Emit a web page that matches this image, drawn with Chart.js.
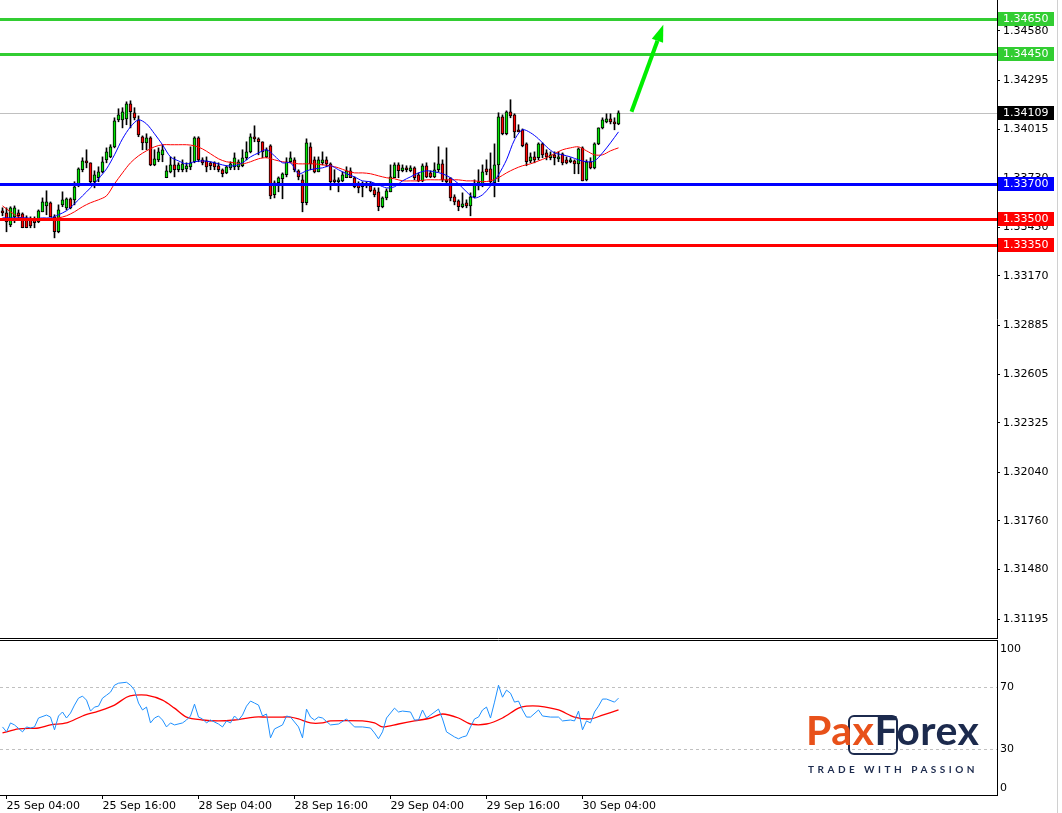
<!DOCTYPE html>
<html>
<head>
<meta charset="utf-8">
<title>GBPUSD M30</title>
<script src="https://cdn.jsdelivr.net/npm/chart.js@4.4.0/dist/chart.umd.min.js"></script>
<style>
  html, body { margin: 0; padding: 0; background: #fff; overflow: hidden; }
  #wrap { position: relative; width: 1062px; height: 813px; }
  #mainBox { position: absolute; left: 0; top: 0; width: 1062px; height: 640px; }
  #rsiBox { position: absolute; left: 0; top: 640px; width: 1062px; height: 173px; }
  #logoBox { position: absolute; left: 848px; top: 715px; width: 46px; height: 36px;
    border: 2.5px solid #1c2a4d; border-radius: 6px; }
  #logo { position: absolute; left: 806px; top: 706px; font-family: Lato, sans-serif; font-weight: 700; }
  #logo .brand { font-size: 41px; line-height: 48px; letter-spacing: 0.5px; }
  #logo .pax { color: #e8511a; }
  #logo .fx { color: #1c2a4d; }
  #logo .tag { color: #1c2a4d; font-size: 10px; letter-spacing: 3.5px; margin-top: 9px; margin-left: 2px; }
</style>
</head>
<body>
<div id="wrap">
  <div id="mainBox"><canvas id="mainChart"></canvas></div>
  <div id="rsiBox"><canvas id="rsiChart"></canvas></div>
  <div id="logoBox"></div>
  <div id="logo">
    <div class="brand"><span class="pax">Pax</span><span class="fx">Forex</span></div>
    <div class="tag">TRADE WITH PASSION</div>
  </div>
</div>
<script>
// M30 candles, index 0 = 25 Sep 03:30 (weekend gap after index 40)
const opens = [
  1.33539, 1.33533, 1.33464, 1.33510, 1.33533, 1.33527, 1.33504, 1.33499, 1.33493, 1.33481,
  1.33539, 1.33573, 1.33591, 1.33510, 1.33424, 1.33579, 1.33562, 1.33614, 1.33608, 1.33688,
  1.33781, 1.33832, 1.33821, 1.33712, 1.33735, 1.33769, 1.33838, 1.33855, 1.33913, 1.34068,
  1.34068, 1.34074, 1.34161, 1.34109, 1.34068, 1.33971, 1.33936, 1.33965, 1.33809, 1.33838,
  1.33867, 1.33735, 1.33769, 1.33809, 1.33781, 1.33781, 1.33786, 1.33798, 1.33827, 1.33965,
  1.33838, 1.33832, 1.33821, 1.33821, 1.33804, 1.33781, 1.33763, 1.33792, 1.33798, 1.33798,
  1.33804, 1.33850, 1.33884, 1.33971, 1.33959, 1.33942, 1.33855, 1.33919, 1.33637, 1.33706,
  1.33729, 1.33752, 1.33827, 1.33838, 1.33775, 1.33723, 1.33591, 1.33913, 1.33838, 1.33769,
  1.33821, 1.33838, 1.33815, 1.33723, 1.33712, 1.33717, 1.33735, 1.33775, 1.33735, 1.33694,
  1.33694, 1.33688, 1.33688, 1.33665, 1.33654, 1.33568, 1.33619, 1.33654, 1.33735, 1.33809,
  1.33775, 1.33792, 1.33775, 1.33792, 1.33752, 1.33717, 1.33804, 1.33763, 1.33740, 1.33781,
  1.33815, 1.33723, 1.33735, 1.33625, 1.33602, 1.33568, 1.33591, 1.33573, 1.33625, 1.33688,
  1.33694, 1.33786, 1.33786, 1.33706, 1.33809, 1.34086, 1.33988, 1.34115, 1.34097, 1.34011,
  1.34011, 1.33930, 1.33832, 1.33855, 1.33850, 1.33930, 1.33878, 1.33850, 1.33867, 1.33844,
  1.33873, 1.33838, 1.33827, 1.33832, 1.33815, 1.33907, 1.33723, 1.33827, 1.33792, 1.33930,
  1.34022, 1.34057, 1.34074, 1.34057, 1.34045
];
const highs = [
  1.33562, 1.33562, 1.33568, 1.33573, 1.33550, 1.33533, 1.33516, 1.33510, 1.33510, 1.33550,
  1.33619, 1.33660, 1.33596, 1.33522, 1.33579, 1.33654, 1.33619, 1.33619, 1.33712, 1.33792,
  1.33850, 1.33896, 1.33821, 1.33775, 1.33798, 1.33855, 1.33907, 1.33925, 1.34080, 1.34132,
  1.34138, 1.34172, 1.34178, 1.34138, 1.34091, 1.33976, 1.33988, 1.33971, 1.33896, 1.33907,
  1.33925, 1.33804, 1.33855, 1.33855, 1.33821, 1.33838, 1.33821, 1.33913, 1.33971, 1.33971,
  1.33850, 1.33855, 1.33827, 1.33827, 1.33821, 1.33786, 1.33804, 1.33827, 1.33878, 1.33838,
  1.33896, 1.33942, 1.33988, 1.34034, 1.33965, 1.33942, 1.33907, 1.33925, 1.33717, 1.33740,
  1.33763, 1.33850, 1.33884, 1.33850, 1.33781, 1.33752, 1.33959, 1.33936, 1.33855, 1.33855,
  1.33884, 1.33855, 1.33821, 1.33781, 1.33735, 1.33769, 1.33798, 1.33792, 1.33740, 1.33712,
  1.33712, 1.33712, 1.33712, 1.33677, 1.33677, 1.33625, 1.33671, 1.33809, 1.33821, 1.33821,
  1.33809, 1.33804, 1.33804, 1.33798, 1.33763, 1.33815, 1.33821, 1.33775, 1.33821, 1.33913,
  1.33838, 1.33907, 1.33735, 1.33637, 1.33608, 1.33648, 1.33608, 1.33648, 1.33723, 1.33781,
  1.33809, 1.33838, 1.33878, 1.33930, 1.34109, 1.34097, 1.34120, 1.34184, 1.34103, 1.34040,
  1.34016, 1.33936, 1.33878, 1.33884, 1.33936, 1.33936, 1.33896, 1.33884, 1.33884, 1.33884,
  1.33878, 1.33855, 1.33850, 1.33838, 1.33907, 1.33913, 1.33838, 1.33850, 1.33936, 1.34022,
  1.34080, 1.34103, 1.34103, 1.34080, 1.34120
];
const lows = [
  1.33516, 1.33424, 1.33453, 1.33476, 1.33499, 1.33447, 1.33447, 1.33447, 1.33447, 1.33476,
  1.33539, 1.33522, 1.33510, 1.33389, 1.33418, 1.33568, 1.33550, 1.33556, 1.33579, 1.33683,
  1.33769, 1.33792, 1.33706, 1.33677, 1.33712, 1.33763, 1.33821, 1.33850, 1.33907, 1.34057,
  1.34022, 1.34040, 1.34022, 1.34068, 1.33971, 1.33896, 1.33896, 1.33804, 1.33804, 1.33827,
  1.33827, 1.33735, 1.33763, 1.33740, 1.33769, 1.33769, 1.33769, 1.33781, 1.33821, 1.33827,
  1.33809, 1.33769, 1.33781, 1.33781, 1.33769, 1.33740, 1.33758, 1.33781, 1.33781, 1.33781,
  1.33798, 1.33838, 1.33878, 1.33942, 1.33867, 1.33850, 1.33850, 1.33614, 1.33619, 1.33654,
  1.33614, 1.33740, 1.33821, 1.33769, 1.33723, 1.33539, 1.33579, 1.33781, 1.33763, 1.33769,
  1.33809, 1.33798, 1.33665, 1.33706, 1.33654, 1.33712, 1.33735, 1.33735, 1.33677, 1.33648,
  1.33625, 1.33677, 1.33654, 1.33625, 1.33545, 1.33562, 1.33608, 1.33654, 1.33735, 1.33735,
  1.33769, 1.33769, 1.33769, 1.33723, 1.33712, 1.33712, 1.33735, 1.33735, 1.33735, 1.33769,
  1.33712, 1.33706, 1.33602, 1.33579, 1.33545, 1.33562, 1.33562, 1.33516, 1.33619, 1.33665,
  1.33683, 1.33752, 1.33700, 1.33625, 1.33712, 1.33982, 1.33982, 1.34080, 1.33965, 1.33999,
  1.33913, 1.33804, 1.33821, 1.33821, 1.33838, 1.33850, 1.33838, 1.33838, 1.33809, 1.33827,
  1.33809, 1.33815, 1.33821, 1.33758, 1.33758, 1.33717, 1.33717, 1.33786, 1.33786, 1.33925,
  1.34016, 1.34051, 1.34045, 1.34011, 1.34040
];
const closes = [
  1.33533, 1.33481, 1.33562, 1.33562, 1.33516, 1.33447, 1.33447, 1.33458, 1.33476, 1.33545,
  1.33596, 1.33596, 1.33510, 1.33424, 1.33550, 1.33608, 1.33614, 1.33562, 1.33683, 1.33786,
  1.33832, 1.33821, 1.33712, 1.33752, 1.33769, 1.33827, 1.33884, 1.33913, 1.34063, 1.34097,
  1.34115, 1.34161, 1.34115, 1.34080, 1.33982, 1.33936, 1.33965, 1.33809, 1.33844, 1.33884,
  1.33896, 1.33775, 1.33809, 1.33781, 1.33809, 1.33815, 1.33804, 1.33821, 1.33965, 1.33838,
  1.33821, 1.33798, 1.33804, 1.33798, 1.33781, 1.33758, 1.33798, 1.33815, 1.33850, 1.33827,
  1.33850, 1.33884, 1.33971, 1.33959, 1.33942, 1.33884, 1.33896, 1.33631, 1.33706, 1.33735,
  1.33758, 1.33827, 1.33850, 1.33781, 1.33740, 1.33591, 1.33936, 1.33815, 1.33769, 1.33838,
  1.33838, 1.33815, 1.33712, 1.33712, 1.33723, 1.33752, 1.33775, 1.33735, 1.33683, 1.33677,
  1.33683, 1.33700, 1.33660, 1.33637, 1.33568, 1.33619, 1.33660, 1.33740, 1.33809, 1.33775,
  1.33792, 1.33781, 1.33792, 1.33735, 1.33717, 1.33804, 1.33740, 1.33740, 1.33781, 1.33815,
  1.33723, 1.33712, 1.33619, 1.33596, 1.33568, 1.33585, 1.33573, 1.33625, 1.33694, 1.33712,
  1.33769, 1.33769, 1.33712, 1.33809, 1.34086, 1.33988, 1.34115, 1.34091, 1.33999, 1.33999,
  1.33919, 1.33827, 1.33855, 1.33838, 1.33930, 1.33867, 1.33855, 1.33867, 1.33850, 1.33855,
  1.33821, 1.33821, 1.33838, 1.33815, 1.33901, 1.33717, 1.33827, 1.33792, 1.33930, 1.34022,
  1.34068, 1.34074, 1.34057, 1.34045, 1.34109
];

// moving averages, read every second candle
const maIdx = [
  0, 2, 4, 6, 8, 10, 12, 14, 16, 18, 20, 22, 24, 26, 28, 30, 32, 34, 36, 38,
  40, 42, 44, 46, 48, 50, 52, 54, 56, 58, 60, 62, 64, 66, 68, 70, 72, 74, 76, 78,
  80, 82, 84, 86, 88, 90, 92, 94, 96, 98, 100, 102, 104, 106, 108, 110, 112, 114, 116, 118,
  120, 122, 124, 126, 128, 130, 132, 134, 136, 138, 140, 142, 144, 146, 148, 150, 152, 154
];
const maFast = [
  1.33504, 1.33504, 1.33504, 1.33504, 1.33499, 1.33504, 1.33504, 1.33522, 1.33545, 1.33585,
  1.33631, 1.33677, 1.33729, 1.33786, 1.33867, 1.33959, 1.34028, 1.34068, 1.34045, 1.33988,
  1.33925, 1.33855, 1.33832, 1.33815, 1.33827, 1.33832, 1.33827, 1.33815, 1.33804, 1.33804,
  1.33821, 1.33855, 1.33878, 1.33896, 1.33861, 1.33821, 1.33821, 1.33758, 1.33775, 1.33786,
  1.33792, 1.33804, 1.33781, 1.33758, 1.33740, 1.33717, 1.33712, 1.33694, 1.33677, 1.33683,
  1.33717, 1.33740, 1.33763, 1.33775, 1.33769, 1.33758, 1.33735, 1.33700, 1.33654, 1.33619,
  1.33637, 1.33688, 1.33752, 1.33838, 1.33953, 1.34011, 1.33994, 1.33959, 1.33913, 1.33878,
  1.33867, 1.33855, 1.33838, 1.33827, 1.33832, 1.33878, 1.33936, 1.33999
];
const maSlow = [
  1.33573, 1.33539, 1.33510, 1.33499, 1.33499, 1.33499, 1.33499, 1.33504, 1.33516, 1.33539,
  1.33568, 1.33591, 1.33608, 1.33631, 1.33700, 1.33763, 1.33821, 1.33861, 1.33890, 1.33913,
  1.33925, 1.33925, 1.33925, 1.33925, 1.33919, 1.33901, 1.33873, 1.33844, 1.33827, 1.33821,
  1.33815, 1.33827, 1.33844, 1.33850, 1.33838, 1.33827, 1.33821, 1.33815, 1.33815, 1.33815,
  1.33809, 1.33804, 1.33792, 1.33775, 1.33763, 1.33763, 1.33758, 1.33746, 1.33735, 1.33729,
  1.33717, 1.33717, 1.33717, 1.33723, 1.33723, 1.33723, 1.33723, 1.33723, 1.33717, 1.33717,
  1.33712, 1.33717, 1.33735, 1.33763, 1.33786, 1.33804, 1.33815, 1.33832, 1.33850, 1.33873,
  1.33896, 1.33907, 1.33913, 1.33890, 1.33867, 1.33867, 1.33890, 1.33907
];

// RSI and its signal line
const rsiIdx = [
  0, 1, 2, 3, 5, 6, 7, 8, 9, 11,
  12, 13, 14, 15, 16, 17, 18, 19, 20, 21,
  22, 23, 24, 25, 26, 27, 28, 29, 31, 32,
  33, 34, 35, 36, 37, 38, 39, 40, 41, 42,
  43, 45, 46, 47, 48, 49, 50, 51, 52, 54,
  55, 56, 57, 58, 59, 60, 61, 62, 63, 64,
  65, 66, 67, 68, 70, 71, 72, 74, 75, 76,
  77, 78, 79, 80, 82, 84, 86, 88, 90, 92,
  93, 94, 95, 96, 98, 99, 100, 102, 103, 104,
  105, 106, 107, 109, 110, 111, 113, 114, 115, 116,
  117, 118, 119, 120, 121, 122, 123, 124, 125, 126,
  127, 128, 129, 130, 131, 132, 134, 135, 137, 139,
  140, 142, 143, 144, 145, 146, 147, 148, 149, 150,
  151, 153, 154
];
const rsiVal = [
  44.2, 41.0, 46.8, 45.5, 41.0, 44.2, 43.5, 44.2, 50.0, 51.9,
  50.6, 42.3, 51.3, 53.9, 50.0, 53.2, 58.4, 62.9, 64.2, 61.6,
  54.5, 57.1, 57.7, 62.9, 64.8, 66.8, 71.3, 72.6, 73.2, 71.3,
  68.1, 59.7, 55.2, 57.1, 46.8, 50.0, 51.3, 48.7, 44.2, 46.8,
  45.5, 46.8, 48.7, 51.3, 59.0, 50.6, 49.4, 46.8, 48.7, 46.1,
  44.2, 48.1, 46.8, 51.3, 48.7, 51.9, 57.7, 61.0, 59.7, 58.4,
  51.3, 52.6, 37.1, 42.9, 45.5, 51.3, 50.6, 44.2, 37.1, 55.8,
  50.6, 48.7, 50.6, 50.0, 45.5, 46.1, 49.4, 44.2, 44.2, 43.5,
  40.3, 36.5, 41.0, 50.0, 56.4, 53.9, 54.5, 53.9, 48.7, 48.7,
  55.2, 50.0, 51.9, 55.8, 49.4, 41.0, 37.7, 36.5, 37.7, 38.4,
  44.2, 49.4, 50.6, 55.2, 57.1, 50.0, 60.3, 71.3, 63.5, 68.1,
  66.1, 60.3, 61.0, 55.2, 50.6, 50.6, 55.2, 51.3, 50.6, 50.6,
  48.1, 48.7, 48.1, 54.5, 42.3, 48.1, 46.8, 53.9, 57.7, 62.3,
  62.3, 60.3, 62.9
];
const rsiMaIdx = [0, 4, 9, 12, 16, 20, 24, 28, 31, 33, 36, 40, 43, 46, 50, 54, 58, 63, 66, 70,
  72, 74, 77, 80, 82, 90, 93, 95, 99, 103, 107, 110, 114, 117, 121, 125, 129, 131, 134, 139,
  143, 147, 150, 154];
const rsiMaVal = [40.3, 42.9, 43.5, 45.5, 46.8, 51.3, 54.5, 58.4, 63.5, 64.8, 64.8, 61.6, 56.4, 50.6, 48.7, 48.1, 48.7, 50.6, 50.6, 50.6,
  50.6, 49.4, 46.8, 46.8, 48.1, 48.1, 46.8, 44.2, 46.1, 48.1, 50.0, 52.6, 50.0, 46.1, 46.1, 50.0, 56.4, 57.7, 57.7, 55.2,
  50.6, 49.4, 51.9, 55.2];

// axes
const priceTicks = [1.34580, 1.34295, 1.34015, 1.33730, 1.33450, 1.33170, 1.32885, 1.32605,
  1.32325, 1.32040, 1.31760, 1.31480, 1.31195];
const timeTickIdx = [1, 25, 49, 73, 97, 121, 145];
const timeTickLabels = ['25 Sep 04:00', '25 Sep 16:00', '28 Sep 04:00', '28 Sep 16:00',
  '29 Sep 04:00', '29 Sep 16:00', '30 Sep 04:00'];
const rsiLevels = [70, 30];

// horizontal levels and annotation
const levelValues = [1.3465, 1.3445, 1.3370, 1.3350, 1.3335];
const levelColors = ['#32cd32', '#32cd32', '#0000ff', '#ff0000', '#ff0000'];
const lastPrice = 1.34109;
const arrowFrom = [157.25, 1.34115];
const arrowTo = [165.2, 1.34615];

const X_MIN = -0.625, X_MAX = 248.625;

Chart.defaults.font.family = 'DejaVu Sans';
Chart.defaults.font.size = 11;
Chart.defaults.color = '#000';

function pts(idx, vals) {
  return idx.map((v, i) => ({ x: v, y: vals[i] }));
}

const wickData = highs.map((h, i) => ({ x: i, y: [lows[i], h] }));
const bodyData = opens.map((o, i) => ({ x: i, y: [Math.min(o, closes[i]), Math.max(o, closes[i])] }));
const bodyColors = opens.map((o, i) => closes[i] >= o ? '#00e600' : '#ff0000');

function hline(ctx, a, py, color, w) {
  ctx.strokeStyle = color;
  ctx.lineWidth = w;
  ctx.beginPath();
  ctx.moveTo(a.left, py);
  ctx.lineTo(a.right, py);
  ctx.stroke();
}

function priceBox(ctx, a, py, color, text) {
  ctx.fillStyle = color;
  ctx.fillRect(a.right + 1, Math.round(py) - 7, 56, 14);
  ctx.fillStyle = '#fff';
  ctx.font = '11px "DejaVu Sans"';
  ctx.textAlign = 'left';
  ctx.textBaseline = 'middle';
  ctx.fillText(text, a.right + 6, Math.round(py) + 0.5);
}

// drop the half-label padding Chart.js adds at the ends of a vertical axis
function fitRight(s) {
  s.width = 65;
  s.paddingTop = 0;
  s.paddingBottom = 0;
}

const mainDecor = {
  id: 'mainDecor',
  beforeDatasetsDraw(chart) {
    const { ctx, chartArea: a, scales: { y } } = chart;
    ctx.save();
    hline(ctx, a, Math.round(y.getPixelForValue(lastPrice)) + 0.5, '#c0c0c0', 1);
    ctx.restore();
  },
  afterDatasetsDraw(chart) {
    const { ctx, chartArea: a, scales: { x, y } } = chart;
    ctx.save();
    levelValues.forEach((v, i) => {
      hline(ctx, a, Math.round(y.getPixelForValue(v)) + 0.5, levelColors[i], 3);
    });
    // green target arrow
    const x1 = x.getPixelForValue(arrowFrom[0]), y1 = y.getPixelForValue(arrowFrom[1]);
    const x2 = x.getPixelForValue(arrowTo[0]), y2 = y.getPixelForValue(arrowTo[1]);
    const ang = Math.atan2(y2 - y1, x2 - x1);
    const headLen = 17, headW = 6;
    const bx = x2 - headLen * Math.cos(ang), by = y2 - headLen * Math.sin(ang);
    ctx.strokeStyle = '#00ee00';
    ctx.fillStyle = '#00ee00';
    ctx.lineWidth = 4;
    ctx.beginPath();
    ctx.moveTo(x1, y1);
    ctx.lineTo(bx, by);
    ctx.stroke();
    ctx.beginPath();
    ctx.moveTo(x2, y2);
    ctx.lineTo(bx + headW * Math.sin(ang), by - headW * Math.cos(ang));
    ctx.lineTo(bx - headW * Math.sin(ang), by + headW * Math.cos(ang));
    ctx.closePath();
    ctx.fill();
    ctx.restore();
  },
  afterDraw(chart) {
    const { ctx, chartArea: a, scales: { y } } = chart;
    ctx.save();
    ctx.strokeStyle = '#000';
    ctx.lineWidth = 1;
    ctx.beginPath();
    ctx.moveTo(0, a.bottom + 0.5);
    ctx.lineTo(a.right + 0.5, a.bottom + 0.5);
    ctx.stroke();
    ctx.strokeStyle = '#d0d0d0';
    ctx.beginPath();
    ctx.moveTo(1057.5, 0);
    ctx.lineTo(1057.5, chart.height);
    ctx.stroke();
    levelValues.forEach((v, i) => {
      priceBox(ctx, a, y.getPixelForValue(v), levelColors[i], v.toFixed(5));
    });
    priceBox(ctx, a, y.getPixelForValue(lastPrice), '#000', lastPrice.toFixed(5));
    ctx.restore();
  }
};

const rsiDecor = {
  id: 'rsiDecor',
  beforeDatasetsDraw(chart) {
    const { ctx, chartArea: a, scales: { y } } = chart;
    ctx.save();
    ctx.setLineDash([3, 3]);
    rsiLevels.forEach(v => hline(ctx, a, Math.round(y.getPixelForValue(v)) + 0.5, '#c0c0c0', 1));
    ctx.restore();
  },
  afterDraw(chart) {
    const { ctx, chartArea: a, scales: { y } } = chart;
    ctx.save();
    ctx.strokeStyle = '#000';
    ctx.lineWidth = 1;
    ctx.beginPath();
    ctx.moveTo(0, 0.5);
    ctx.lineTo(a.right + 0.5, 0.5);
    ctx.moveTo(a.right + 0.5, 0);
    ctx.lineTo(a.right + 0.5, a.top);
    ctx.stroke();
    ctx.strokeStyle = '#d0d0d0';
    ctx.beginPath();
    ctx.moveTo(1057.5, 0);
    ctx.lineTo(1057.5, chart.height);
    ctx.stroke();
    ctx.fillStyle = '#000';
    ctx.font = '11px "DejaVu Sans"';
    ctx.textAlign = 'left';
    ctx.textBaseline = 'middle';
    ctx.fillText('100', a.right + 3, y.getPixelForValue(100) + 8);
    ctx.fillText('0', a.right + 3, y.getPixelForValue(0) - 7);
    ctx.restore();
  }
};

const xScaleBase = {
  type: 'linear',
  min: X_MIN,
  max: X_MAX,
  offset: false
};

new Chart(document.getElementById('mainChart'), {
  type: 'bar',
  data: {
    datasets: [
      {
        type: 'bar', data: wickData, backgroundColor: '#000', barThickness: 1,
        grouped: false, order: 4
      },
      {
        type: 'bar', data: bodyData, backgroundColor: bodyColors, borderColor: '#000',
        borderWidth: 1, borderSkipped: false, barThickness: 3, minBarLength: 2,
        grouped: false, order: 3
      },
      {
        type: 'line', data: pts(maIdx, maSlow), borderColor: '#ff0000', borderWidth: 1,
        pointRadius: 0, tension: 0.3, order: 2
      },
      {
        type: 'line', data: pts(maIdx, maFast), borderColor: '#0000ff', borderWidth: 1,
        pointRadius: 0, tension: 0.3, order: 1
      }
    ]
  },
  options: {
    responsive: true,
    maintainAspectRatio: false,
    animation: false,
    events: [],
    layout: { padding: { top: 0, bottom: 2, left: 0, right: 0 } },
    plugins: { legend: { display: false }, tooltip: { enabled: false } },
    scales: {
      x: Object.assign({}, xScaleBase, { display: false, grid: { display: false } }),
      y: {
        position: 'right',
        min: 1.31086,
        max: 1.34758,
        afterBuildTicks: s => { s.ticks = priceTicks.map(v => ({ value: v })); },
        afterFit: fitRight,
        grid: { drawOnChartArea: false, drawTicks: true, tickLength: 3, color: '#000' },
        border: { display: true, color: '#000' },
        ticks: { padding: 3, callback: v => v.toFixed(5) }
      }
    }
  },
  plugins: [mainDecor]
});

new Chart(document.getElementById('rsiChart'), {
  type: 'line',
  data: {
    datasets: [
      {
        data: pts(rsiMaIdx, rsiMaVal), borderColor: '#ff0000', borderWidth: 1.3,
        pointRadius: 0, tension: 0.3, order: 2
      },
      {
        data: pts(rsiIdx, rsiVal), borderColor: '#1e90ff', borderWidth: 1,
        pointRadius: 0, tension: 0, order: 1
      }
    ]
  },
  options: {
    responsive: true,
    maintainAspectRatio: false,
    animation: false,
    events: [],
    layout: { padding: { top: 1, bottom: 0, left: 0, right: 0 } },
    plugins: { legend: { display: false }, tooltip: { enabled: false } },
    scales: {
      x: Object.assign({}, xScaleBase, {
        position: 'bottom',
        afterBuildTicks: s => { s.ticks = timeTickIdx.map(v => ({ value: v })); },
        afterFit: s => { s.height = 18; s.paddingLeft = 0; s.paddingRight = 0; },
        grid: { drawOnChartArea: false, drawTicks: true, tickLength: 4, color: '#000' },
        border: { display: true, color: '#000' },
        ticks: {
          align: 'start', padding: 1, maxRotation: 0, autoSkip: false,
          callback: (v, i) => timeTickLabels[i]
        }
      }),
      y: {
        position: 'right',
        min: 0,
        max: 100,
        afterBuildTicks: s => { s.ticks = rsiLevels.map(v => ({ value: v })); },
        afterFit: fitRight,
        grid: { drawOnChartArea: false, drawTicks: false },
        border: { display: true, color: '#000' },
        ticks: { padding: 3 }
      }
    }
  },
  plugins: [rsiDecor]
});
</script>
</body>
</html>
